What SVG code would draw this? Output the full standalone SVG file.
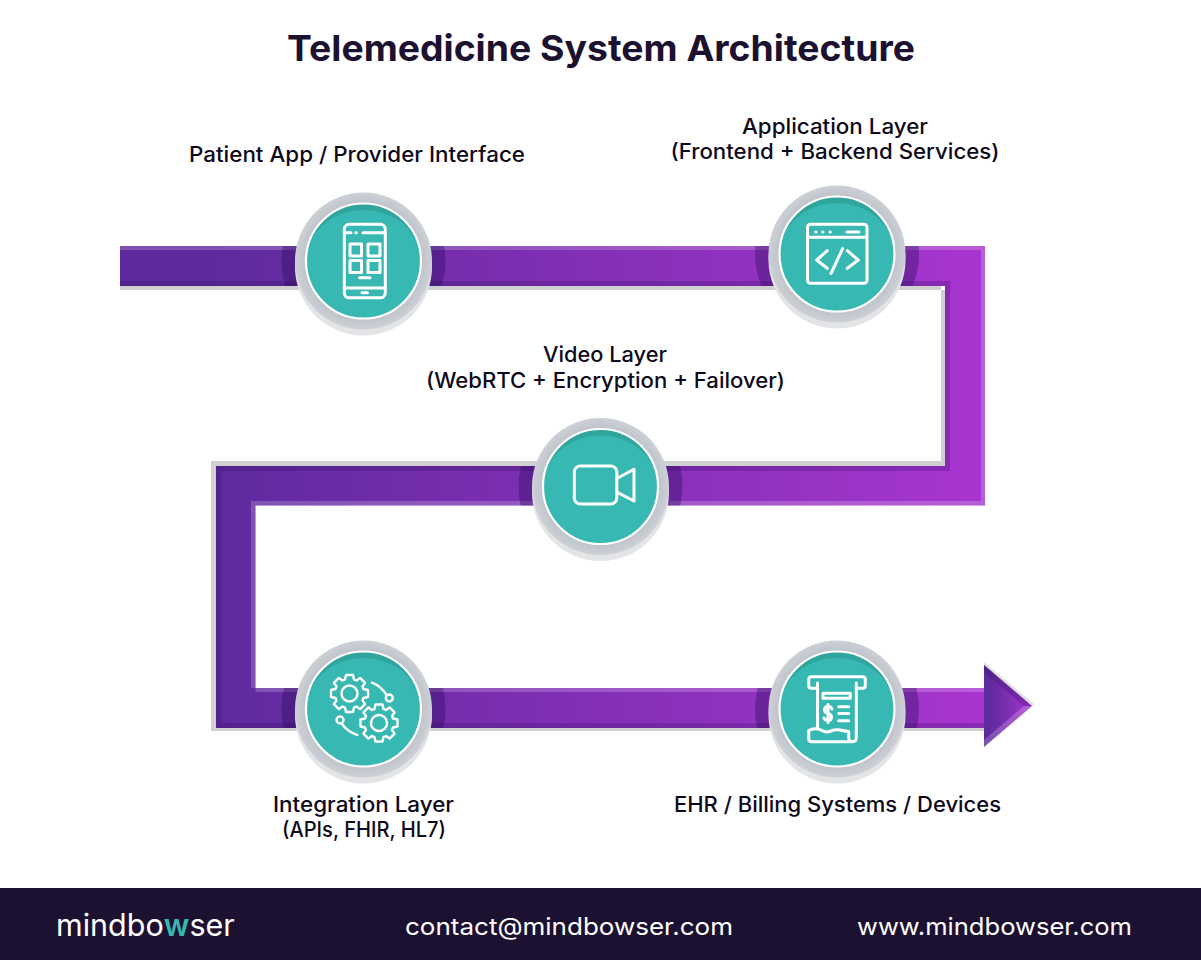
<svg xmlns="http://www.w3.org/2000/svg" xmlns:xlink="http://www.w3.org/1999/xlink" width="1201" height="960" viewBox="0 0 1201 960">
<style>
text{font-family:"Inter","Open Sans","Liberation Sans",sans-serif}
.t{font-size:21px;font-weight:500;fill:#0e0a1c}
.f{font-size:24px;font-weight:400;fill:#fff}
.i{fill:none;stroke:#fff;stroke-width:3;stroke-linecap:round;stroke-linejoin:round}
.lt{fill:#fff;opacity:.2}
.dk{fill:#2a0c5c;opacity:.24}
.halo{fill:#2a0c5c;opacity:.38}
.shadow{fill:#e3e4e5}
.ring{fill:url(#ringG)}
.deep{fill:#2fa59e}
.teal{fill:#37b8b2}
.edge{fill:none;stroke:#fff;stroke-width:2.2}
</style>
<defs>
<linearGradient id="bandG" gradientUnits="userSpaceOnUse" x1="216" y1="0" x2="985" y2="0"><stop offset="0" stop-color="#5f2a9e"/><stop offset="1" stop-color="#a835d0"/></linearGradient>
<linearGradient id="arrowG" gradientUnits="userSpaceOnUse" x1="990" y1="0" x2="1032" y2="0"><stop offset="0" stop-color="#5f2a9e"/><stop offset="1" stop-color="#a835d0"/></linearGradient>
<radialGradient id="ringG" cx=".5" cy=".5" r=".5"><stop offset=".82" stop-color="#bcc1c9"/><stop offset="1" stop-color="#cdd1d6"/></radialGradient>
<clipPath id="bandClip"><rect x="120" y="246" width="865" height="40"/><rect x="216" y="466" width="769" height="39.5"/><rect x="216" y="688" width="769" height="40"/></clipPath>
<polygon id="gear" points="-4.5,-14 -3.5,-18.5 3.5,-18.5 4.5,-14 7.07,-13 10.6,-15.6 15.6,-10.6 13,-7.07 14,-4.5 18.5,-3.5 18.5,3.5 14,4.5 13,7.07 15.6,10.6 10.6,15.6 7.07,13 4.5,14 3.5,18.5 -3.5,18.5 -4.5,14 -7.07,13 -10.6,15.6 -15.6,10.6 -13,7.07 -14,4.5 -18.5,3.5 -18.5,-3.5 -14,-4.5 -13,-7.07 -15.6,-10.6 -10.6,-15.6 -7.07,-13"/>
<g id="disc">
<circle cy="6" r="68.5" class="shadow"/>
<circle r="68.5" class="ring"/>
<circle r="57.500" class="teal"/>
<path class="deep" d="M-57.500 0A57.500 57.500 0 0 1 57.500 0A57.500 51 0 0 0 -57.500 0Z"/>
<circle r="57.500" class="edge"/>
</g>
</defs>
<rect width="1201" height="960" fill="#fff"/>
<text x="601" y="61" text-anchor="middle" textLength="628" lengthAdjust="spacingAndGlyphs" style="font-size:36px;font-weight:700;fill:#1c1130">Telemedicine System Architecture</text>
<g id="connectors">
<path fill="#d0d0d0" d="M120 286H941V461H211V731H985V728H216V466H945V290H120Z"/>
<path fill="url(#bandG)" d="M120 246H985V505.500H255.500V688H985V728H216V466H945V286H120Z"/>
<g class="strips">
<rect class="lt" x="120" y="246" width="865" height="4"/>
<rect class="lt" x="981" y="250" width="4" height="255.500"/>
<rect class="lt" x="251" y="501" width="730" height="4.500"/>
<rect class="lt" x="251" y="505.500" width="4.500" height="182.500"/>
<rect class="lt" x="255.500" y="688" width="729.500" height="4"/>
<rect class="dk" x="120" y="281" width="830" height="5"/>
<rect class="dk" x="945" y="286" width="5" height="185"/>
<rect class="dk" x="216" y="466" width="729" height="5"/>
<rect class="dk" x="216" y="471" width="5" height="257"/>
<rect class="dk" x="221" y="723" width="764" height="5"/>
</g>
<g clip-path="url(#bandClip)">
<circle class="halo" cx="363.500" cy="261" r="82"/>
<circle class="halo" cx="837" cy="254" r="82"/>
<circle class="halo" cx="600.500" cy="486.500" r="82"/>
<circle class="halo" cx="363.500" cy="709" r="82"/>
<circle class="halo" cx="837" cy="709" r="82"/>
</g>
<g id="arrowhead">
<polygon fill="#e0e0e0" points="984,662 1034,704 1032,706 984,666"/>
<polygon fill="url(#arrowG)" points="984,665 1032,706 984,747"/>
<polygon fill="#2a0c5c" opacity=".25" points="984,665 1032,706 1024,706 984,672"/>
<polygon fill="#fff" opacity=".2" points="984,747 1032,706 1024,706 984,740"/>
</g>
</g>
<g id="node-patient">
<use href="#disc" x="363.500" y="261"/>
<g class="i">
<rect x="344.300" y="224.300" width="41" height="73.500" rx="5"/>
<path d="M345 232.700H351M363 232.700H384M345 288H384"/>
<path d="M355.800 232.700H356.400M362 292.700H367.500M359.500 277.700H370"/>
<rect x="350" y="244" width="11.500" height="12"/><rect x="368" y="244" width="12" height="12"/>
<rect x="350" y="260.500" width="11.500" height="12"/><rect x="368" y="260.500" width="12" height="12"/>
</g>
<text class="t" x="357" y="162" text-anchor="middle" textLength="336" lengthAdjust="spacingAndGlyphs">Patient App / Provider Interface</text>
</g>
<g id="node-application">
<use href="#disc" x="837" y="254"/>
<g class="i">
<rect x="807.500" y="224.300" width="59.500" height="59" rx="3"/>
<path d="M808 237.300H866M815.700 232H816M822.700 232H823M830 232H830.300M847 232H859"/>
<path d="M827.300 250.700L816.700 260L827.300 268.300M847.300 250.700L858.300 260L847.300 268.300M842.700 248.500L831 273.500"/>
</g>
<text class="t" x="835" y="134" text-anchor="middle" textLength="186" lengthAdjust="spacingAndGlyphs">Application Layer</text>
<text class="t" x="835" y="159" text-anchor="middle" textLength="329" lengthAdjust="spacingAndGlyphs">(Frontend + Backend Services)</text>
</g>
<g id="node-video">
<use href="#disc" x="600.500" y="486.500"/>
<g class="i">
<rect x="574.300" y="466" width="42.500" height="38" rx="6"/>
<path d="M617.300 478.300L634 469.300V501L617.300 492.300"/>
</g>
<text class="t" x="605" y="362" text-anchor="middle" textLength="124" lengthAdjust="spacingAndGlyphs">Video Layer</text>
<text class="t" x="605.500" y="388" text-anchor="middle" textLength="359" lengthAdjust="spacingAndGlyphs">(WebRTC + Encryption + Failover)</text>
</g>
<g id="node-integration">
<use href="#disc" x="363.500" y="709"/>
<g class="i" style="stroke-width:2.400">
<use href="#gear" x="349.500" y="693.500"/><circle cx="349.500" cy="693.500" r="8"/>
<use href="#gear" x="379" y="723"/><circle cx="379" cy="723" r="8"/>
<path d="M372 682.700Q381 686 386.500 695"/><circle cx="389.300" cy="698" r="3.500"/>
<circle cx="340" cy="720" r="3.500"/><path d="M342 724Q348 732 357.300 735"/>
</g>
<text class="t" x="363.500" y="812" text-anchor="middle" textLength="181" lengthAdjust="spacingAndGlyphs">Integration Layer</text>
<text class="t" x="364" y="837" text-anchor="middle" textLength="164" lengthAdjust="spacingAndGlyphs">(APIs, FHIR, HL7)</text>
</g>
<g id="node-ehr">
<use href="#disc" x="837" y="709"/>
<g class="i">
<path d="M817 688.300H811.500Q808.700 688.300 808.700 685.500V679.500Q808.700 676.700 811.500 676.700H862.500Q865.300 676.700 865.300 679.500V685.500Q865.300 688.300 862.500 688.300H856.300"/>
<path d="M817.500 683V729M856.300 683V737Q856.300 741.700 852.500 741.700H812Q808.700 741.700 808.700 738.500V730.500L813 729Q818 728 822 730.500T831 731T840 730T848.700 731.500V737Q848.700 741.700 852.500 741.700"/>
<rect x="823" y="693.300" width="27.300" height="5"/>
<path d="M832 709Q831 706.500 828 706.500Q824.500 706.500 824.500 709.800Q824.500 712.700 828 713.500Q831.500 714.300 831.500 717.300Q831.500 720.500 828 720.500Q825 720.500 824 718M828 704.500V722.500"/>
<path d="M838.700 706.700H848.700M838.700 713.500H848.700M838.700 720.700H848.700"/>
</g>
<text class="t" x="837.500" y="812" text-anchor="middle" textLength="327" lengthAdjust="spacingAndGlyphs">EHR / Billing Systems / Devices</text>
</g>
<g id="footer">
<rect y="888" width="1201" height="72" fill="#1c1130"/>
<text x="56" y="936" style="font-size:30.500px;font-weight:400;fill:#fff">mindbo<tspan fill="#37b8b2" font-weight="600">w</tspan>ser</text>
<text class="f" x="405" y="935" textLength="328" lengthAdjust="spacingAndGlyphs">contact@mindbowser.com</text>
<text class="f" x="857" y="935" textLength="275" lengthAdjust="spacingAndGlyphs">www.mindbowser.com</text>
</g>
</svg>
